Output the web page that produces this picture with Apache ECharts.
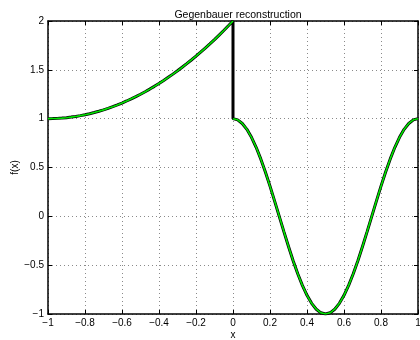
<!DOCTYPE html>
<html><head><meta charset="utf-8">
<script src="https://cdn.jsdelivr.net/npm/echarts@6/dist/echarts.min.js"></script>
<style>html,body{margin:0;padding:0;background:#fff}#c{width:420px;height:340px}</style>
</head><body><div id="c"></div>
<script>
// Left piece (x in [-1,0])
var xLeft = [-1,-0.975,-0.95,-0.925,-0.9,-0.875,-0.85,-0.825,-0.8,-0.775,-0.75,-0.725,-0.7,-0.675,-0.65,-0.625,-0.6,-0.575,-0.55,-0.525,-0.5,-0.475,-0.45,-0.425,-0.4,-0.375,-0.35,-0.325,-0.3,-0.275,-0.25,-0.225,-0.2,-0.175,-0.15,-0.125,-0.1,-0.075,-0.05,-0.025,0];
var yLeft = [1,1.001,1.003,1.006,1.01,1.016,1.023,1.031,1.04,1.051,1.063,1.076,1.09,1.106,1.123,1.141,1.16,1.181,1.203,1.226,1.25,1.276,1.303,1.331,1.36,1.391,1.423,1.456,1.49,1.526,1.563,1.601,1.64,1.681,1.723,1.766,1.81,1.856,1.903,1.951,2];
// Right piece (x in [0,1])
var xRight = [0,0.025,0.05,0.075,0.1,0.125,0.15,0.175,0.2,0.225,0.25,0.275,0.3,0.325,0.35,0.375,0.4,0.425,0.45,0.475,0.5,0.525,0.55,0.575,0.6,0.625,0.65,0.675,0.7,0.725,0.75,0.775,0.8,0.825,0.85,0.875,0.9,0.925,0.95,0.975,1];
var yRight = [1,0.988,0.951,0.891,0.809,0.707,0.588,0.454,0.309,0.156,0,-0.156,-0.309,-0.454,-0.588,-0.707,-0.809,-0.891,-0.951,-0.988,-1,-0.988,-0.951,-0.891,-0.809,-0.707,-0.588,-0.454,-0.309,-0.156,0,0.156,0.309,0.454,0.588,0.707,0.809,0.891,0.951,0.988,1];
var xTicks = [-1,-0.8,-0.6,-0.4,-0.2,0,0.2,0.4,0.6,0.8,1];
var yTicks = [-1,-0.5,0,0.5,1,1.5,2];

function pairs(xs, ys){ return xs.map(function(x,i){return [x, ys[i]];}); }
var leftPts = pairs(xLeft, yLeft);
var rightPts = pairs(xRight, yRight);
var exact = leftPts.concat(rightPts);

function fmt(v){ var s = String(Math.round(v*10)/10); return s.replace('-', '\u2212'); }
var font = 'Liberation Sans, Arial, Helvetica, sans-serif';
var grid = {lineStyle:{color:'#8a8a8a', type:[1,3], width:1}};
function axBase(extra){
  return Object.assign({
    axisLine:{show:true, onZero:false, lineStyle:{color:'#000', width:1.5}},
    axisTick:{show:true, inside:true, length:4, lineStyle:{color:'#000'}},
    axisLabel:{color:'#000', fontSize:10, fontFamily:font, formatter:fmt},
    splitLine:{show:false}
  }, extra);
}
var chart = echarts.init(document.getElementById('c'), null, {renderer:'canvas'});
chart.setOption({
  animation:false,
  backgroundColor:'#fff',
  title:{text:'Gegenbauer reconstruction', left:233, textAlign:'center', top:5,
    textStyle:{fontSize:10.5, fontWeight:'normal', color:'#000', fontFamily:font}},
  grid:{left:48, right:2, top:21, bottom:26, containLabel:false, outerBoundsMode:'none'},
  xAxis:[
    axBase({type:'value', min:xTicks[0], max:xTicks[xTicks.length-1], interval:0.2, position:'bottom',
      name:'x', nameLocation:'middle', nameGap:16, nameMoveOverlap:false, nameTextStyle:{color:'#000', fontSize:10, fontFamily:font},
      axisLabel:{color:'#000', fontSize:10, fontFamily:font, formatter:fmt, margin:4},
      splitLine:Object.assign({show:true}, grid)}),
    axBase({type:'value', min:-1, max:1, interval:0.2, position:'top', axisLabel:{show:false}})
  ],
  yAxis:[
    axBase({type:'value', min:yTicks[0], max:yTicks[yTicks.length-1], interval:0.5, position:'left',
      name:'f(x)', nameLocation:'middle', nameGap:28, nameMoveOverlap:false, nameRotate:90, nameTextStyle:{color:'#000', fontSize:10, fontFamily:font},
      axisLabel:{color:'#000', fontSize:10, fontFamily:font, formatter:fmt, margin:4},
      splitLine:Object.assign({show:true}, grid)}),
    axBase({type:'value', min:-1, max:2, interval:0.5, position:'right', axisLabel:{show:false}})
  ],
  series:[
    {type:'line', data:exact, smooth:false, showSymbol:false, lineStyle:{color:'#000', width:3}, z:2},
    {type:'line', data:leftPts, smooth:false, showSymbol:false, lineStyle:{color:'#00e600', width:1.6}, z:3},
    {type:'line', data:rightPts, smooth:false, showSymbol:false, lineStyle:{color:'#00e600', width:1.6}, z:3}
  ]
});
</script></body></html>
